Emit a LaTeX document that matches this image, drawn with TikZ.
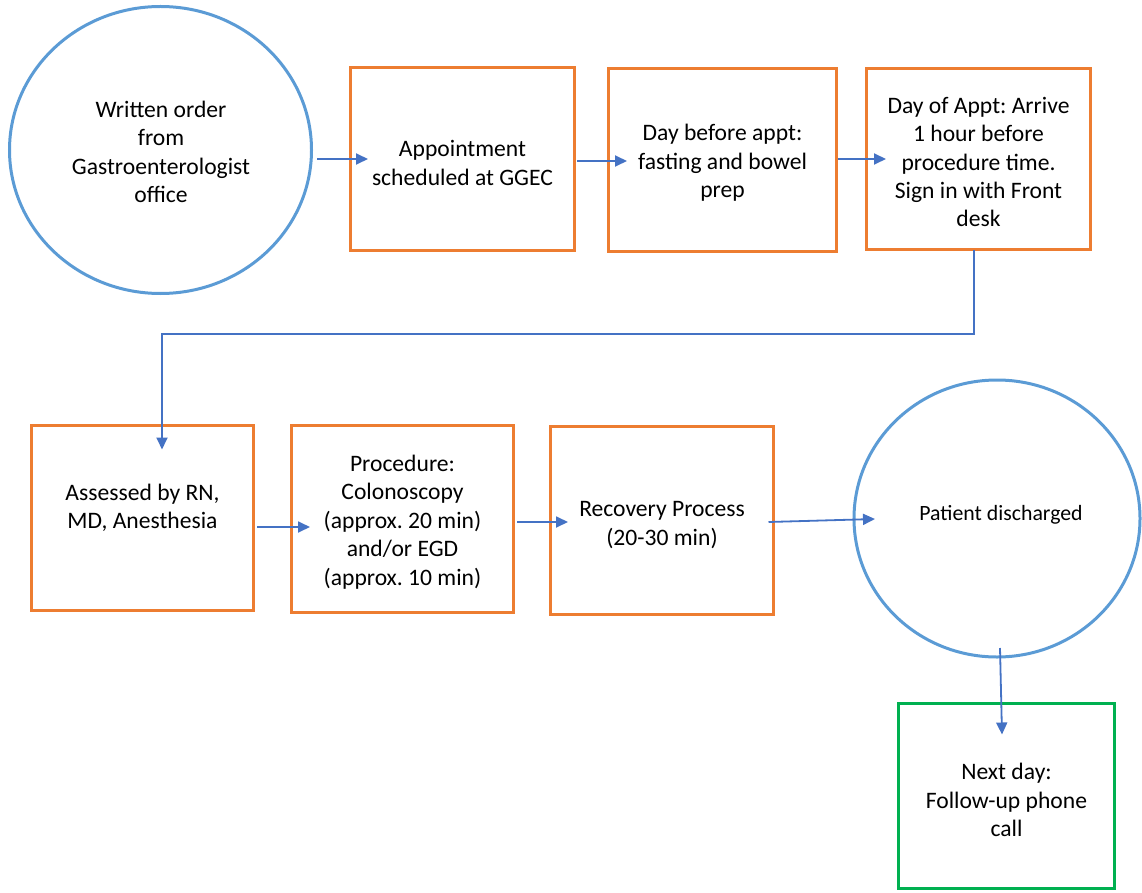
\documentclass[tikz,border=0pt]{standalone}
\usepackage{fontspec}
\setmainfont{Carlito}
\usetikzlibrary{arrows.meta,shapes.geometric}
\frenchspacing

\definecolor{ringblue}{RGB}{91,155,213}
\definecolor{boxorange}{RGB}{237,125,49}
\definecolor{boxgreen}{RGB}{0,176,80}
\definecolor{flowblue}{RGB}{68,114,196}

\tikzset{
  every node/.style={outer sep=0pt, inner sep=0pt, font=\fontsize{23.6}{28.4}\selectfont, align=center},
  ring/.style={ellipse, draw=ringblue, line width=3pt},
  stepbox/.style={rectangle, draw=boxorange, line width=3pt},
  endbox/.style={rectangle, draw=boxgreen, line width=3pt},
  flow/.style={draw=flowblue, line width=1.8pt, -{Triangle[length=12pt,width=11pt]}},
}

\begin{document}
\begin{tikzpicture}[x=1pt, y=-1pt]
\useasboundingbox (0,0) rectangle (1142,893);

% first row
\node[ring, minimum width=302pt, minimum height=287pt] (order) at (160.5,150) {};
\node (ordertext) at (161,152) {Written order\\from\\Gastroenterologist\\office};
\node[stepbox, minimum width=224pt, minimum height=183pt] (appt) at (462.5,159) {};
\node (appttext) at (462.5,163) {Appointment\\scheduled at GGEC};
\node[stepbox, minimum width=228pt, minimum height=183pt] (prep) at (722.5,160) {};
\node (preptext) at (722.5,163) {Day before appt:\\fasting and bowel\\prep};
\node[stepbox, minimum width=224pt, minimum height=181pt] (arrive) at (978.5,159) {};
\node (arrivetext) at (978.5,162)
  {Day of Appt: Arrive\\1 hour before\\procedure time.\\Sign in with Front\\desk};

% second row
\node[stepbox, minimum width=222pt, minimum height=185pt] (assess) at (142.5,518) {};
\node (assesstext) at (142.5,508) {Assessed by RN,\\MD, Anesthesia};
\node[stepbox, minimum width=222pt, minimum height=187pt] (proc) at (402.5,519) {};
\node (proctext) at (402.5,522)
  {Procedure:\\Colonoscopy\\(approx. 20 min)\\and/or EGD\\(approx. 10 min)};
\node[stepbox, minimum width=223pt, minimum height=188pt] (recov) at (662,520.5) {};
\node (recovtext) at (662,525) {Recovery Process\\(20-30 min)};
\node[ring, minimum width=286pt, minimum height=277pt] (disch) at (997,518.5) {};
\node[font=\fontsize{21.8}{26}\selectfont] (dischtext) at (1001,515) {Patient discharged};

% follow-up
\node[endbox, minimum width=216pt, minimum height=185pt] (call) at (1006.5,796) {};
\node (calltext) at (1006.5,800) {Next day:\\Follow-up phone\\call};

% connectors
\draw[flow] ([xshift=5.5pt,yshift=-9pt]order.east) -- ([xshift=17.5pt]appt.west);
\draw[flow] ([xshift=2.5pt,yshift=-2pt]appt.east) -- ([xshift=18.5pt,yshift=-1pt]prep.west);
\draw[flow] ([xshift=1.5pt,yshift=1pt]prep.east) -- ([xshift=19.5pt]arrive.west);

\coordinate (bend) at (162,334);
\draw[flow] ([xshift=-4.5pt,yshift=-1pt]arrive.south) |- (bend)
  -- ([xshift=19.5pt,yshift=-24pt]assess.north);

\draw[flow] ([xshift=3.5pt,yshift=-9pt]assess.east) -- ([xshift=18.5pt,yshift=-8pt]proc.west);
\draw[flow] ([xshift=3.5pt,yshift=-3pt]proc.east) -- ([xshift=17.5pt,yshift=-1.5pt]recov.west);
\draw[flow] ([xshift=-5pt,yshift=-1.5pt]recov.east) -- ([xshift=21pt,yshift=-0.5pt]disch.west);
\draw[flow] ([xshift=3pt,yshift=9pt]disch.south) -- ([xshift=-4.5pt,yshift=-31pt]call.north);
\end{tikzpicture}
\end{document}
